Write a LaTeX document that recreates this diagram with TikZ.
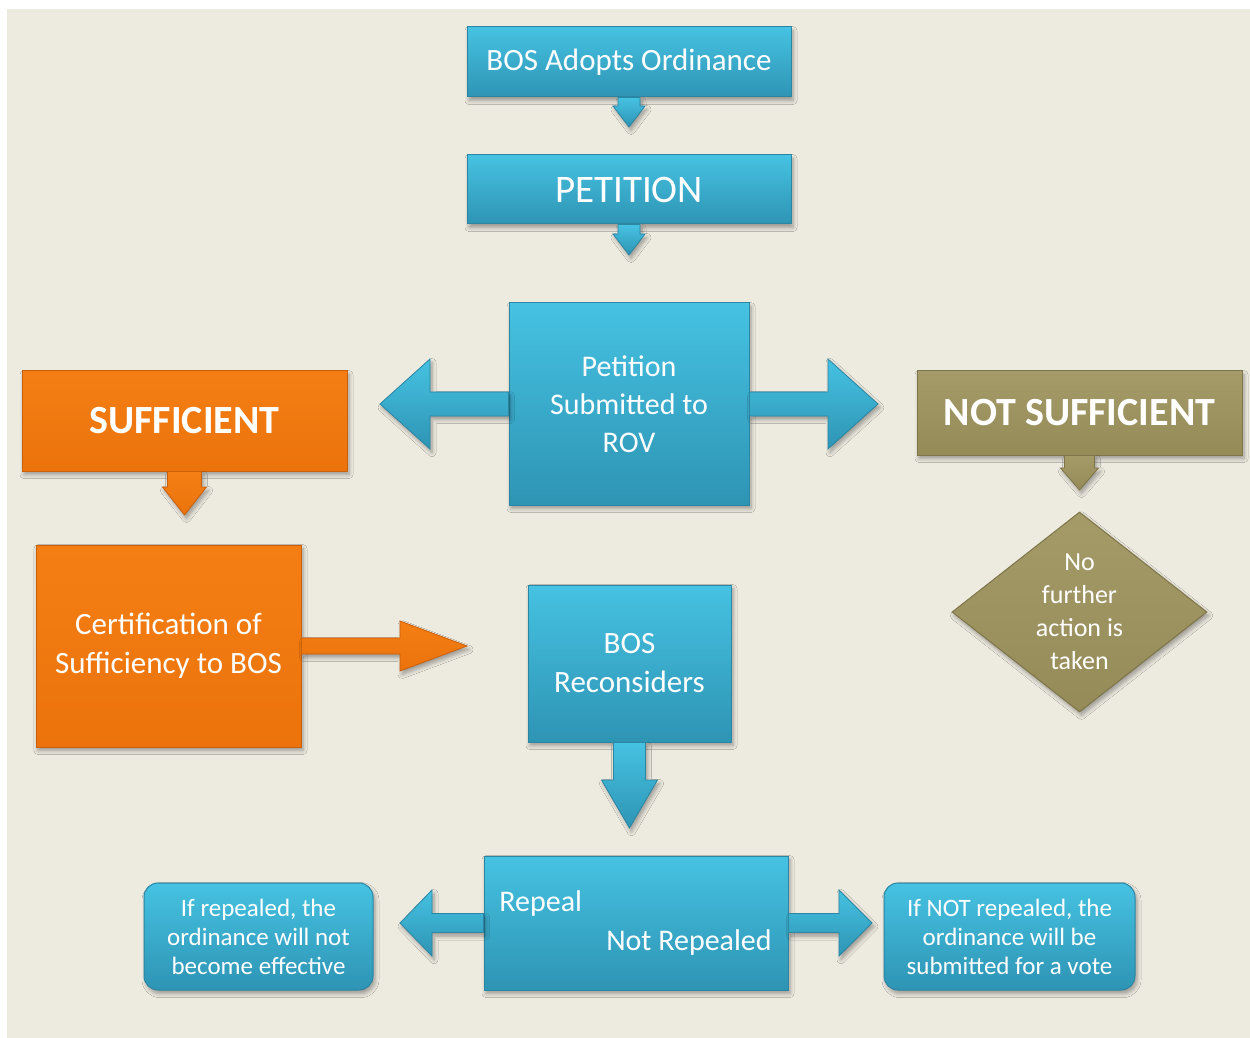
\documentclass[tikz,border=0pt]{standalone}
\usepackage{fontspec}
\setmainfont{Carlito}
\usetikzlibrary{calc,shapes.geometric,shadows,shadows.blur}
\definecolor{bg}{HTML}{EDEAE0}
\definecolor{bluetop}{HTML}{46C2E2}
\definecolor{bluebot}{HTML}{2E94B4}
\definecolor{blueedge}{HTML}{2A86A3}
\definecolor{orgtop}{HTML}{F47E14}
\definecolor{orgbot}{HTML}{EC730C}
\definecolor{orgedge}{HTML}{C8600A}
\definecolor{olvtop}{HTML}{A59B68}
\definecolor{olvbot}{HTML}{958B59}
\definecolor{olvedge}{HTML}{7E7548}
\tikzset{
  shad/.style={blur shadow={shadow xshift=1pt, shadow yshift=-1.8pt, shadow blur steps=6, shadow blur radius=2pt, shadow opacity=35}},
  basebox/.style={rectangle, text=white, align=center, inner sep=0pt, line width=0.5pt, shad},
  bluebox/.style={basebox, top color=bluetop, bottom color=bluebot, draw=blueedge},
  orgbox/.style={basebox, top color=orgtop, bottom color=orgbot, draw=orgedge},
  olvbox/.style={basebox, top color=olvtop, bottom color=olvbot, draw=olvedge},
  bluearr/.style={top color=bluetop, bottom color=bluebot, draw=blueedge, line width=0.4pt, shad},
  orgarr/.style={top color=orgtop, bottom color=orgbot, draw=orgedge, line width=0.4pt, shad},
  olvarr/.style={top color=olvtop, bottom color=olvbot, draw=olvedge, line width=0.4pt, shad},
  plaintext/.style={text=white, inner sep=0pt, align=center},
}
% style, from, to, shaft half width, head half width, head length
\newcommand{\blockarrow}[6]{%
  \path (#2) coordinate (ba-s) ($(#3)!#6!(#2)$) coordinate (ba-b);
  \path[#1] ($(ba-s)!#4!90:(#3)$) -- ($(ba-b)!#4!90:(#3)$) -- ($(ba-b)!#5!90:(#3)$)
    -- (#3) -- ($(ba-b)!#5!-90:(#3)$) -- ($(ba-b)!#4!-90:(#3)$)
    -- ($(ba-s)!#4!-90:(#3)$) -- cycle;
}
\begin{document}
\begin{tikzpicture}[x=0.5pt,y=-0.5pt]
\useasboundingbox (0,0) rectangle (1250,1038);
\fill[bg] (7,9) rectangle (1250,1038);

% arrow tips
\coordinate (t1) at (629,127);
\coordinate (t2) at (629,255);
\coordinate (t3) at (380,404);
\coordinate (t4) at (878,404);
\coordinate (t5) at (184.5,515);
\coordinate (t6) at (1079.5,490);
\coordinate (t7) at (467,646);
\coordinate (t8) at (629.5,828);
\coordinate (t9) at (400,923);
\coordinate (t10) at (872,923);

% boxes
\node[bluebox, minimum width=162pt, minimum height=35pt, font=\fontsize{15.5}{19}\selectfont] (bos) at (629,62) {BOS Adopts Ordinance};
\node[bluebox, minimum width=162pt, minimum height=34.5pt, font=\fontsize{19.5}{23}\selectfont] (pet) at (629,189.5) {PETITION};
\node[bluebox, minimum width=120pt, minimum height=101pt, font=\fontsize{15}{19}\selectfont] (rov) at (629,404) {Petition\\Submitted to\\ROV};
\node[orgbox, minimum width=162.5pt, minimum height=50pt, font=\bfseries\fontsize{20}{24}\selectfont] (suf) at (184.5,421) {SUFFICIENT};
\node[olvbox, minimum width=162.5pt, minimum height=42pt, font=\bfseries\fontsize{20}{24}\selectfont] (nsuf) at (1079.5,413) {NOT SUFFICIENT};
\node[orgbox, minimum width=132.5pt, minimum height=101pt, font=\fontsize{15.5}{19.5}\selectfont] (cert) at (168.5,646) {Certification of\\Sufficiency to BOS};
\node[bluebox, minimum width=101.5pt, minimum height=78.5pt, font=\fontsize{15.5}{19.5}\selectfont] (bosr) at (629.5,663.5) {BOS\\Reconsiders};
\node[bluebox, minimum width=152pt, minimum height=67pt] (rep) at (636,923) {};
\node[plaintext, anchor=west, font=\fontsize{15}{18}\selectfont] (repl) at (499,903) {Repeal};
\node[plaintext, anchor=east, font=\fontsize{15}{18}\selectfont] (nrepl) at (772,942) {Not Repealed};
\node[bluebox, rounded corners=7pt, minimum width=114.5pt, minimum height=53.5pt, font=\fontsize{12.5}{14.5}\selectfont] (lbox) at (258.5,936.5) {If repealed, the\\ordinance will not\\become effective};
\node[bluebox, rounded corners=7pt, minimum width=125.5pt, minimum height=53.5pt, font=\fontsize{12.5}{14.5}\selectfont] (rbox) at (1009.5,936.5) {If NOT repealed, the\\ordinance will be\\submitted for a vote};
\node[olvbox, diamond, minimum width=127.5pt, minimum height=100pt] (dia) at (1079.5,612) {};
\node[plaintext, font=\fontsize{13}{16.5}\selectfont] (diatxt) at (dia.center) {No\\further\\action is\\taken};

% block arrows
\blockarrow{bluearr}{bos.south}{t1}{5.5pt}{8pt}{10.5pt}
\blockarrow{bluearr}{pet.south}{t2}{5.5pt}{8pt}{10.5pt}
\blockarrow{bluearr}{rov.west}{t3}{6pt}{22.5pt}{25pt}
\blockarrow{bluearr}{rov.east}{t4}{6pt}{22.5pt}{25pt}
\blockarrow{orgarr}{suf.south}{t5}{8.5pt}{11pt}{14pt}
\blockarrow{olvarr}{nsuf.south}{t6}{7.5pt}{9.5pt}{11pt}
\blockarrow{orgarr}{cert.east}{t7}{4pt}{12.5pt}{33.5pt}
\blockarrow{bluearr}{bosr.south}{t8}{8pt}{14pt}{24pt}
\blockarrow{bluearr}{rep.west}{t9}{4.75pt}{16.5pt}{16pt}
\blockarrow{bluearr}{rep.east}{t10}{4.75pt}{16.5pt}{16.5pt}
\end{tikzpicture}
\end{document}
